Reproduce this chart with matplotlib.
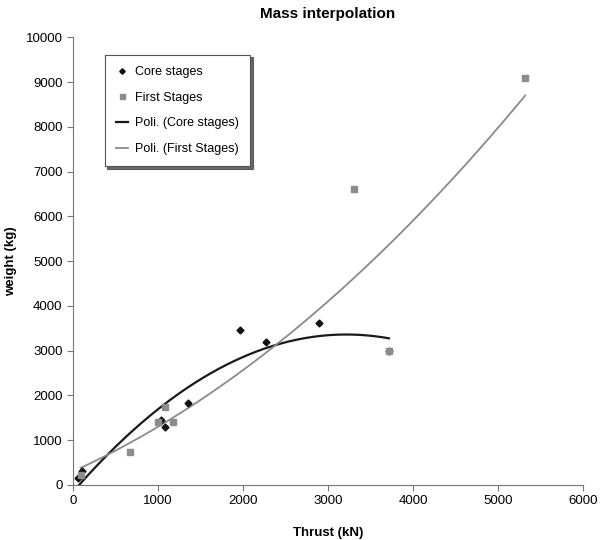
import numpy as np
import matplotlib.pyplot as plt

plt.rcParams['font.family'] = ['Liberation Sans', 'DejaVu Sans']

# Core stages: thrust (kN) vs weight (kg)
core_thrust = [60, 110, 1040, 1080, 1350, 1960, 2270, 2890, 3716]
core_weight = [150, 300, 1450, 1300, 1820, 3460, 3185, 3610, 2990]

# First stages
first_thrust = [90, 670, 1000, 1080, 1180, 3300, 3716, 5320]
first_weight = [220, 737, 1400, 1748, 1413, 6600, 2990, 9085]

xticks = [0, 1000, 2000, 3000, 4000, 5000, 6000]
yticks = [0, 1000, 2000, 3000, 4000, 5000, 6000, 7000, 8000, 9000, 10000]

fig = plt.figure(figsize=(6.03, 5.4), dpi=100)
ax = fig.add_axes([0.121, 0.102, 0.846, 0.829])

# second order polynomial trendlines (like Excel "Poli.")
c_core = np.polyfit(core_thrust, core_weight, 2)
c_first = np.polyfit(first_thrust, first_weight, 2)
xc = np.linspace(min(core_thrust), max(core_thrust), 200)
xf = np.linspace(min(first_thrust), max(first_thrust), 200)

ax.plot(core_thrust, core_weight, 'D', color='#111111', markersize=3.5, label='Core stages', zorder=3)
ax.plot(first_thrust, first_weight, 's', color='#8c8c8c', markersize=4.5, label='First Stages', zorder=3)
ax.plot(xc, np.polyval(c_core, xc), color='#1a1a1a', lw=1.6, label='Poli. (Core stages)')
ax.plot(xf, np.polyval(c_first, xf), color='#8a8a8a', lw=1.3, label='Poli. (First Stages)')

ax.set_xlim(0, 6000)
ax.set_ylim(0, 10000)
ax.set_xticks(xticks)
ax.set_yticks(yticks)
ax.tick_params(labelsize=9.5, direction='out', length=4, color='#777777')
for s in ['top', 'right']:
    ax.spines[s].set_visible(False)
for s in ['left', 'bottom']:
    ax.spines[s].set_color('#777777')

ax.set_title('Mass interpolation', fontsize=11, fontweight='bold', pad=14)
ax.set_xlabel('Thrust (kN)', fontsize=9.5, fontweight='bold', labelpad=14)
ax.set_ylabel('weight (kg)', fontsize=9.5, fontweight='bold', labelpad=6)

leg = ax.legend(loc='upper left', bbox_to_anchor=(0.05, 0.975), fontsize=9,
                fancybox=False, shadow={'color': '#444444', 'alpha': 0.8},
                edgecolor='#555555', markerscale=0.8,
                handlelength=1.0, handletextpad=0.5, labelspacing=1.1, borderpad=0.9)
leg.get_frame().set_linewidth(0.8)

fig.savefig('out.png', dpi=100)
